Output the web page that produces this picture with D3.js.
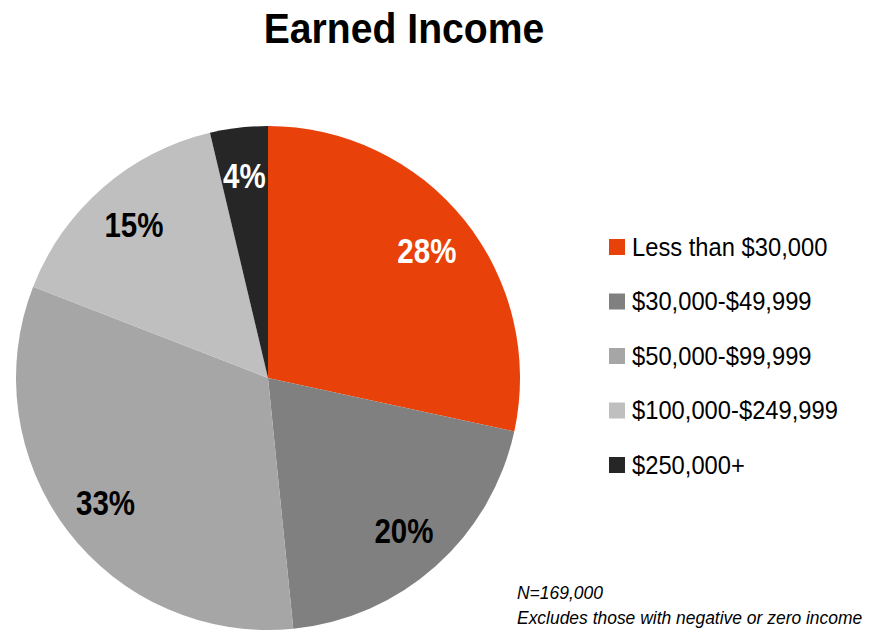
<!DOCTYPE html>
<html lang="en">
<head>
    <meta charset="UTF-8">
    <title>Earned Income</title>
    <script src="https://d3js.org/d3.v7.min.js"></script>
    <style>
        body { margin: 0; background: #fff; font-family: "Liberation Sans Narrow", "Arial Narrow", "Liberation Sans", Arial, sans-serif; }
    </style>
</head>
<body>
    <div id="chart"></div>
    <script>
        // Data
        const categories = ["Less than $30,000", "$30,000-$49,999", "$50,000-$99,999", "$100,000-$249,999", "$250,000+"];
        const shares = [28.4, 20.0, 32.5, 15.4, 3.7];
        const colors = ["#e8410a", "#808080", "#a6a6a6", "#bfbfbf", "#262626"];
        const labelColors = ["#fff", "#000", "#000", "#000", "#fff"];
        const notes = ["N=169,000", "Excludes those with negative or zero income"];

        const width = 880, height = 630;
        const cx = 268, cy = 378, radius = 252;

        const svg = d3.select("#chart")
            .append("svg")
            .attr("width", width)
            .attr("height", height);

        // Title (narrowed by hand, no condensed font available)
        svg.append("text")
            .attr("transform", "translate(404,43) scale(0.91,1)")
            .attr("text-anchor", "middle")
            .style("font-size", "43px")
            .style("font-weight", "bold")
            .text("Earned Income");

        const pie = d3.pie().sort(null).value(d => d);
        const arcs = pie(shares);
        const arc = d3.arc().innerRadius(0).outerRadius(radius);
        const labelArc = d3.arc().innerRadius(radius * 0.81).outerRadius(radius * 0.81);

        const g = svg.append("g").attr("transform", `translate(${cx},${cy})`);

        g.selectAll("path")
            .data(arcs)
            .enter()
            .append("path")
            .attr("d", arc)
            .attr("fill", (d, i) => colors[i]);

        g.selectAll("text.pct")
            .data(arcs)
            .enter()
            .append("text")
            .attr("class", "pct")
            .attr("transform", d => `translate(${labelArc.centroid(d)}) scale(0.82,1)`)
            .attr("text-anchor", "middle")
            .attr("dy", "0.36em")
            .attr("fill", (d, i) => labelColors[i])
            .style("font-size", "36px")
            .style("font-weight", "bold")
            .text(d => Math.round(d.data) + "%");

        // Legend
        const legendY = d3.scalePoint().domain(categories).range([247, 465]);
        const rows = svg.append("g").selectAll("g")
            .data(categories)
            .enter()
            .append("g")
            .attr("transform", d => `translate(609,${legendY(d)})`);

        rows.append("rect")
            .attr("x", 0)
            .attr("y", -8)
            .attr("width", 16)
            .attr("height", 16)
            .attr("fill", (d, i) => colors[i]);

        rows.append("text")
            .attr("transform", "translate(23,0) scale(0.95,1)")
            .attr("dy", "0.35em")
            .style("font-size", "25px")
            .text(d => d);

        // Footnote
        svg.selectAll("text.note")
            .data(notes)
            .enter()
            .append("text")
            .attr("class", "note")
            .attr("transform", (d, i) => `translate(517,${599 + i * 25}) scale(0.97,1)`)
            .style("font-size", "18px")
            .style("font-style", "italic")
            .text(d => d);
    </script>
</body>
</html>
